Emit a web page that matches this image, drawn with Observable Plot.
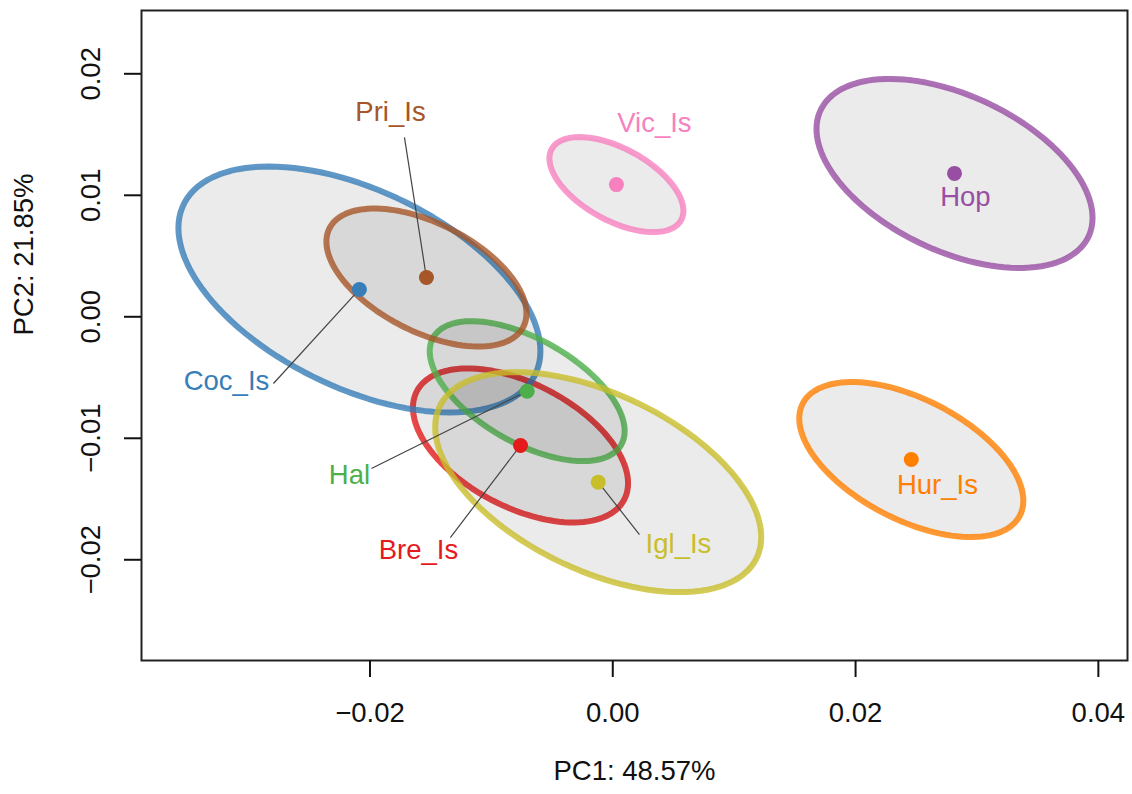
<!DOCTYPE html>
<html><head><meta charset="utf-8">
<script src="https://cdn.jsdelivr.net/npm/d3@7"></script>
<script src="https://cdn.jsdelivr.net/npm/@observablehq/plot@0.6"></script>
<style>body{margin:0;background:#fff}</style>
</head><body><div id="chart"></div>
<script>
// Groups (alphabetical, Set1-like colours)
const groups  = ["Bre_Is","Coc_Is","Hal","Hop","Hur_Is","Igl_Is","Pri_Is","Vic_Is"];
const colors  = ["#E41A1C","#377EB8","#4DAF4A","#984EA3","#FF7F00","#C8BE2A","#A65628","#F781BF"];
// Group centroids
const pc1 = [-0.00760,-0.02087,-0.00705, 0.02815, 0.02459,-0.00120,-0.01535, 0.00030];
const pc2 = [-0.01059, 0.00225,-0.00612, 0.01180,-0.01175,-0.01361, 0.00323, 0.01088];
// Ellipse half-extents and correlation
const spreadX = [0.00886,0.01491,0.00803,0.01137,0.00923,0.01343,0.00824,0.00552];
const spreadY = [0.00634,0.01012,0.00576,0.00778,0.00638,0.00905,0.00568,0.00391];
const corr    = [-0.49,-0.50,-0.57,-0.47,-0.53,-0.50,-0.52,-0.55];
// Label positions (data units)
const labelX = [-0.01601,-0.03182,-0.02169, 0.02905, 0.02674, 0.00541,-0.01831, 0.00343];
const labelY = [-0.01924,-0.00533,-0.01306, 0.00982,-0.01389,-0.01874, 0.01681, 0.01590];
// Leader line start points (null = no leader)
const leaderX = [-0.01338,-0.02795,-0.01988,null,null, 0.00220,-0.01716,null];
const leaderY = [-0.01817,-0.00549,-0.01249,null,null,-0.01792, 0.01476,null];
// Axes
const xTicks = [-0.02, 0.00, 0.02, 0.04];
const yTicks = [-0.02, -0.01, 0.00, 0.01, 0.02];
const xTitle = "PC1: 48.57%";
const yTitle = "PC2: 21.85%";

const groupTable = groups.map((g,i)=>({g, color:colors[i], x:pc1[i], y:pc2[i], lx:labelX[i], ly:labelY[i], sx:leaderX[i], sy:leaderY[i]}));
const ellipsePts = [];
groups.forEach((g,i)=>{
  const phi = Math.acos(corr[i]);
  const n = 120;
  for (let k=0;k<n;k++){
    const t = 2*Math.PI*k/n;
    ellipsePts.push({g, color:colors[i], x: pc1[i]+spreadX[i]*Math.cos(t), y: pc2[i]+spreadY[i]*Math.cos(t+phi)});
  }
});
const leaders = groupTable.filter(d=>d.sx!==null);
const fmt = d=> d3.format(".2f")(d);
const FONT = "'Liberation Sans', Arial, Helvetica, sans-serif";

const chart = Plot.plot({
  width:1132, height:794,
  marginLeft:141, marginRight:5, marginTop:10, marginBottom:134,
  style:{fontFamily:FONT, background:"#fff"},
  x:{domain:[-0.03882,0.04240]},
  y:{domain:[-0.02829,0.02521]},
  marks:[
    ...groups.map(g=>Plot.line(ellipsePts.filter(d=>d.g===g), {x:"x", y:"y", curve:"linear-closed",
        fill:"black", fillOpacity:0.08, stroke:colors[groups.indexOf(g)], strokeOpacity:0.8, strokeWidth:6})),
    Plot.link(leaders, {x1:"sx", y1:"sy", x2:"x", y2:"y", stroke:"#444", strokeWidth:1.2}),
    Plot.dot(groupTable, {x:"x", y:"y", r:7.5, fill:"color", stroke:null}),
    Plot.text(groupTable, {x:"lx", y:"ly", text:"g", fill:"color", fontSize:27.5, textAnchor:"middle"}),
    Plot.frame({stroke:"#222", strokeWidth:2}),
    Plot.axisX(xTicks, {tickSize:17, tickPadding:25, fontSize:27.5, tickFormat:fmt, strokeWidth:2, color:"#111", label:null}),
    Plot.axisY(yTicks, {tickSize:17, tickPadding:33, fontSize:27.5, tickFormat:fmt, strokeWidth:2, color:"#111", label:null, tickRotate:-90, textAnchor:"middle", lineAnchor:"middle"}),
    Plot.text([xTitle], {frameAnchor:"bottom", dy:119, fontSize:27.5, fill:"#111"}),
    Plot.text([yTitle], {frameAnchor:"left", dx:-117, rotate:-90, fontSize:27.5, fill:"#111"})
  ]
});
document.getElementById("chart").appendChild(chart);
</script></body></html>
